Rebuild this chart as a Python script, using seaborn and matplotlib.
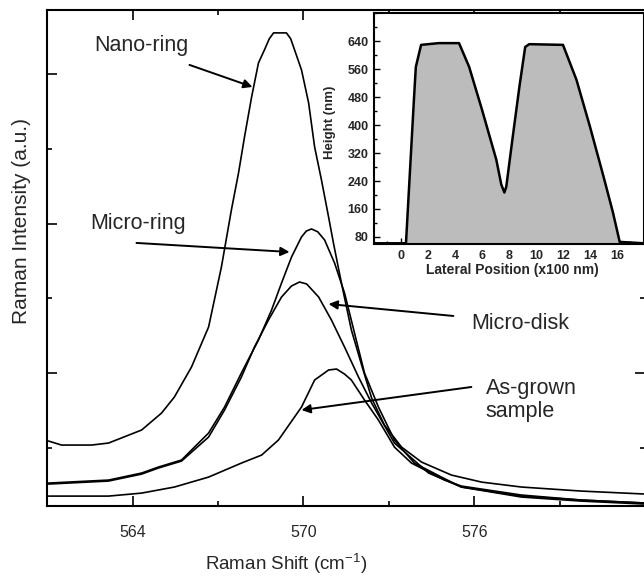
import numpy as np
import pandas as pd
import matplotlib
matplotlib.use("Agg")
from matplotlib import pyplot as plt
from matplotlib.ticker import MultipleLocator, FixedLocator, NullFormatter
import seaborn as sns

# Raman spectra (shift in cm-1, intensity in a.u.)
nano_shift = [561.05, 561.51, 562.56, 563.16, 564.32, 565.02, 565.47, 566.07, 566.67, 567.12,
              567.47, 567.72, 567.93, 568.18, 568.42, 568.63, 568.80, 568.95, 569.40, 569.55,
              569.65, 569.93, 570.18, 570.39, 570.63, 570.88, 571.05, 571.33, 571.68, 572.04,
              572.39, 572.84, 573.44, 574.14, 575.19, 576.25, 577.65, 579.75, 582.0]
nano_int = [1.094, 1.040, 1.040, 1.067, 1.241, 1.468, 1.682, 2.083, 2.618, 3.420,
            4.182, 4.676, 5.158, 5.693, 6.147, 6.321, 6.470, 6.548, 6.548, 6.470,
            6.361, 6.053, 5.612, 5.024, 4.583, 4.088, 3.741, 3.206, 2.578, 2.110,
            1.668, 1.307, 1.013, 0.813, 0.639, 0.545, 0.479, 0.425, 0.385]

ring_shift = [561.05, 563.16, 564.32, 564.91, 565.72, 566.67, 567.23, 567.82, 568.42, 568.88,
              569.23, 569.58, 569.93, 570.10, 570.28, 570.50, 570.74, 571.09, 571.44, 571.79,
              572.14, 572.63, 573.19, 573.89, 574.84, 575.54, 577.65, 579.75, 582.0]
ring_int = [0.532, 0.572, 0.666, 0.746, 0.840, 1.201, 1.548, 2.003, 2.444, 2.845,
            3.206, 3.553, 3.821, 3.900, 3.928, 3.890, 3.781, 3.473, 3.072, 2.537,
            2.003, 1.548, 1.107, 0.799, 0.612, 0.479, 0.358, 0.305, 0.265]

disk_shift = [561.05, 563.16, 564.32, 564.91, 565.72, 566.67, 567.23, 567.82, 568.28, 568.77,
              569.23, 569.58, 569.86, 570.11, 570.53, 570.98, 571.44, 571.93, 572.39, 573.19,
              574.39, 575.54, 577.65, 579.75, 582.0]
disk_int = [0.519, 0.559, 0.652, 0.733, 0.826, 1.147, 1.508, 1.949, 2.350, 2.711,
            3.019, 3.166, 3.219, 3.193, 3.019, 2.711, 2.350, 1.949, 1.602, 1.067,
            0.666, 0.479, 0.345, 0.291, 0.251]

grown_shift = [561.05, 563.16, 564.32, 565.47, 566.67, 567.82, 568.53, 569.12, 569.93, 570.39,
               570.88, 571.16, 571.44, 571.68, 572.14, 572.63, 573.19, 573.79, 574.95, 575.54,
               577.65, 579.75, 582.0]
grown_int = [0.358, 0.358, 0.398, 0.479, 0.612, 0.799, 0.906, 1.107, 1.548, 1.909,
             2.043, 2.056, 1.989, 1.909, 1.642, 1.374, 1.013, 0.799, 0.572, 0.492,
             0.372, 0.305, 0.265]

# AFM height profile of the nano-ring (x100 nm, nm)
prof_pos = [-2.0, 0.37, 0.97, 1.1, 1.49, 2.8, 4.3, 5.05, 6.0, 7.06, 7.43, 7.66, 7.8,
            8.25, 8.77, 9.2, 9.5, 12.0, 13.0, 14.0, 15.0, 15.7, 16.2, 18.0]
prof_h = [62, 62, 480, 566, 629, 634, 634, 566, 444, 301, 230, 207, 224,
          358, 509, 623, 631, 629, 529, 395, 253, 150, 66, 62]

sns.set_theme(style="ticks")
plt.rcParams['font.family'] = ['Liberation Sans', 'DejaVu Sans']
plt.rcParams['mathtext.fontset'] = 'custom'
plt.rcParams['mathtext.rm'] = 'Liberation Sans'
plt.rcParams['mathtext.it'] = 'Liberation Sans:italic'
plt.rcParams['mathtext.bf'] = 'Liberation Sans:bold'

fig = plt.figure(figsize=(6.44, 5.79), dpi=100)
ax = fig.add_axes([0.073, 0.126, 0.9293, 0.857])

for xs, ys in [(nano_shift, nano_int), (ring_shift, ring_int),
               (disk_shift, disk_int), (grown_shift, grown_int)]:
    sns.lineplot(x=xs, y=ys, ax=ax, color='black', lw=1.2, estimator=None, sort=False)

ax.set_xlim(561, 582)
ax.set_ylim(0.225, 6.856)
ax.xaxis.set_major_locator(FixedLocator([564, 570, 576]))
ax.xaxis.set_minor_locator(FixedLocator([567, 573, 579]))
ax.yaxis.set_major_locator(FixedLocator([2, 4, 6]))
ax.yaxis.set_minor_locator(FixedLocator([1, 3, 5]))
ax.yaxis.set_major_formatter(NullFormatter())
ax.tick_params(which='both', direction='in', top=True, right=True, width=1.2, color='black')
ax.tick_params(which='major', length=7)
ax.tick_params(which='minor', length=3.5)
ax.tick_params(axis='x', labelsize=11.5, pad=14)
for s in ax.spines.values():
    s.set_linewidth(1.5)
    s.set_color('black')

ax.set_xlabel('Raman Shift (cm$^{-1}$)', fontsize=13.5)
ax.set_ylabel('Raman Intensity (a.u.)', fontsize=15)
ax.xaxis.set_label_coords(0.40, -0.093)
ax.yaxis.set_label_coords(-0.027, 0.575)

arrow = dict(arrowstyle='-|>', color='black', lw=1.4, mutation_scale=13,
             shrinkA=0, shrinkB=0)
fs = 15.5
ax.text(564.32, 6.374, 'Nano-ring', fontsize=fs, ha='center', va='center')
ax.annotate('', xy=(568.21, 5.826), xytext=(566.0, 6.12), arrowprops=arrow)
ax.text(564.18, 3.995, 'Micro-ring', fontsize=fs, ha='center', va='center')
ax.annotate('', xy=(569.51, 3.62), xytext=(564.14, 3.741), arrowprops=arrow)
ax.text(577.61, 2.658, 'Micro-disk', fontsize=fs, ha='center', va='center')
ax.annotate('', xy=(570.88, 2.925), xytext=(575.26, 2.765), arrowprops=arrow)
ax.text(576.39, 1.642, 'As-grown\nsample', fontsize=fs, ha='left', va='center',
        linespacing=1.15)
ax.annotate('', xy=(569.93, 1.508), xytext=(575.89, 1.816), arrowprops=arrow)

# inset: height profile
ins = fig.add_axes([0.5807, 0.5786, 0.4193, 0.3989])
ins.fill_between(prof_pos, prof_h, 60, color='#bcbcbc', lw=0)
sns.lineplot(x=prof_pos, y=prof_h, ax=ins, color='black', lw=1.8, estimator=None, sort=False)
ins.set_xlim(-2, 18)
ins.set_ylim(60, 720)
ins.xaxis.set_major_locator(FixedLocator(list(range(0, 17, 2))))
ins.xaxis.set_minor_locator(MultipleLocator(1))
ins.yaxis.set_major_locator(FixedLocator(list(range(80, 641, 80))))
ins.yaxis.set_minor_locator(MultipleLocator(40))
ins.tick_params(which='both', direction='in', width=1.0, color='black')
ins.tick_params(which='major', length=4, labelsize=9, pad=4)
ins.tick_params(which='minor', length=2)
for lab in ins.get_xticklabels() + ins.get_yticklabels():
    lab.set_fontweight('bold')
for s in ins.spines.values():
    s.set_linewidth(1.5)
    s.set_color('black')
ins.set_xlabel('Lateral Position (x100 nm)', fontsize=10, fontweight='bold')
ins.set_ylabel('Height (nm)', fontsize=9.5, fontweight='bold')
ins.xaxis.set_label_coords(0.511, -0.082)
ins.yaxis.set_label_coords(-0.141, 0.528)

fig.savefig('out.png', dpi=100)
